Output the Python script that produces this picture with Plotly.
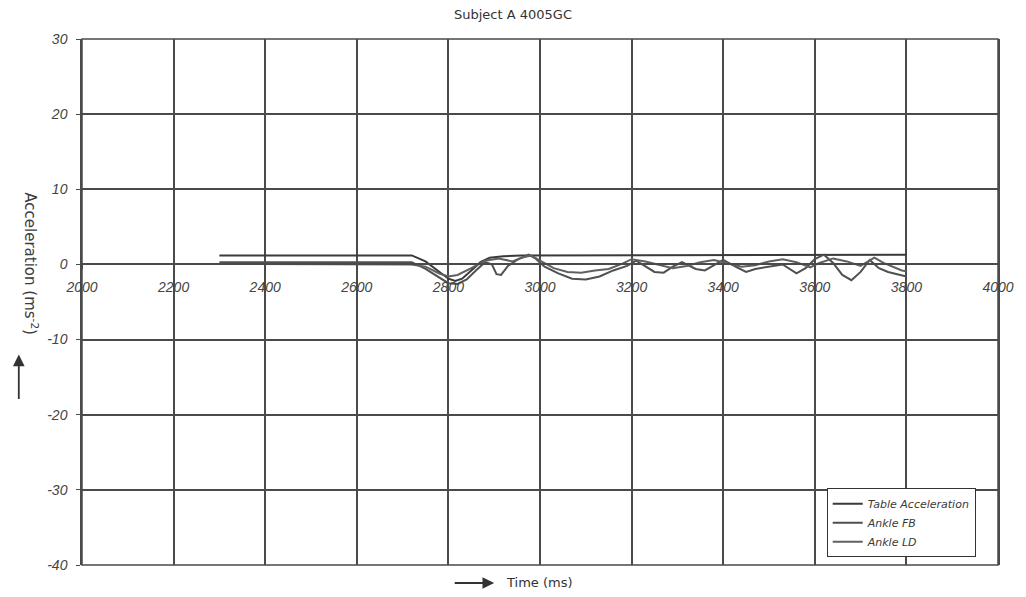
import plotly.graph_objects as go

# Table acceleration (ms^-2) vs time (ms)
table_t = [2300, 2720, 2750, 2780, 2800, 2815, 2830, 2850, 2870, 2890, 2920, 2960, 3000, 3400, 3800]
table_a = [1.2, 1.2, 0.4, -1.0, -1.9, -2.2, -1.9, -0.8, 0.3, 0.9, 1.1, 1.2, 1.2, 1.25, 1.3]

# Ankle fore-aft response
fb_t = [2300, 2500, 2720, 2750, 2780, 2800, 2820, 2840, 2860, 2880, 2895, 2905, 2915, 2930,
        2950, 2975, 2990, 3010, 3040, 3070, 3100, 3130, 3160, 3190, 3210, 3230, 3250, 3270,
        3290, 3310, 3340, 3360, 3380, 3400, 3430, 3450, 3470, 3500, 3530, 3560, 3580, 3600,
        3620, 3640, 3660, 3680, 3700, 3720, 3740, 3760, 3780, 3800]
fb_a = [0.3, 0.3, 0.3, -0.6, -1.8, -2.5, -2.6, -2.0, -0.8, 0.3, 0.0, -1.3, -1.4, -0.2,
        0.6, 1.3, 0.8, -0.3, -1.2, -1.9, -2.0, -1.6, -0.8, -0.2, 0.5, -0.2, -1.0, -1.1,
        -0.3, 0.3, -0.6, -0.8, -0.1, 0.6, -0.4, -1.0, -0.6, -0.3, 0.0, -1.2, -0.5, 0.7,
        1.3, 0.2, -1.4, -2.1, -1.0, 0.6, -0.5, -1.0, -1.3, -1.6]

# Ankle lateral response
ld_t = [2300, 2720, 2750, 2780, 2800, 2820, 2850, 2880, 2910, 2940, 2960, 2980, 3000, 3030,
        3060, 3090, 3120, 3150, 3180, 3200, 3230, 3260, 3290, 3320, 3350, 3380, 3410, 3440,
        3470, 3500, 3530, 3560, 3590, 3610, 3640, 3670, 3700, 3730, 3750, 3770, 3790, 3800]
ld_a = [0.05, 0.0, -0.3, -1.2, -1.6, -1.4, -0.5, 0.5, 0.8, 0.4, 0.9, 1.2, 0.5, -0.5,
        -1.0, -1.1, -0.8, -0.6, 0.1, 0.7, 0.4, 0.0, -0.5, -0.2, 0.3, 0.6, 0.2, -0.3,
        -0.1, 0.4, 0.7, 0.3, -0.4, 0.2, 0.8, 0.4, -0.2, 0.9, 0.2, -0.3, -0.8, -0.9]

x_ticks = [2000, 2200, 2400, 2600, 2800, 3000, 3200, 3400, 3600, 3800, 4000]
y_ticks = [-40, -30, -20, -10, 0, 10, 20, 30]
y_tick_text = ["-40", "-30", "-20", "-10", "0", "10", "20", "30"]

line_col = "#505050"
grid_col = "#4a4a4a"
tick_font = dict(family="Liberation Sans, Arial", size=14, color="#444444", style="italic")

fig = go.Figure()
fig.add_trace(go.Scatter(x=table_t, y=table_a, mode="lines", name="Table Acceleration",
                         line=dict(color="#3a3a3a", width=2)))
fig.add_trace(go.Scatter(x=fb_t, y=fb_a, mode="lines", name="Ankle FB",
                         line=dict(color=line_col, width=2)))
fig.add_trace(go.Scatter(x=ld_t, y=ld_a, mode="lines", name="Ankle LD",
                         line=dict(color="#606060", width=2)))

fig.update_layout(
    width=1026, height=597,
    margin=dict(l=82, r=19, t=39, b=32),
    paper_bgcolor="white", plot_bgcolor="white",
    showlegend=True,
    legend=dict(x=0.813, y=0.146, xanchor="left", yanchor="top",
                bgcolor="white", bordercolor="#333333", borderwidth=1,
                font=dict(family="DejaVu Sans", size=11, color="#3a3a3a", style="italic"),
                itemwidth=30, tracegroupgap=0),
    xaxis=dict(range=[2000, 4000], tickvals=x_ticks, ticktext=[str(v) for v in x_ticks],
               showgrid=True, gridcolor=grid_col, gridwidth=1.5, zeroline=False,
               anchor="free", position=40 / 70, showline=True, linecolor=grid_col, linewidth=1.5,
               ticks="outside", ticklen=4, tickcolor=grid_col, tickfont=tick_font,
               ticklabelstandoff=6),
    yaxis=dict(range=[-40, 30], tickvals=y_ticks, ticktext=y_tick_text, domain=[0, 1],
               showgrid=True, gridcolor=grid_col, gridwidth=1.5, zeroline=False,
               showline=True, linecolor=grid_col, linewidth=1.5, mirror=True,
               ticks="outside", ticklen=4, tickcolor=grid_col, tickfont=tick_font,
               ticklabelstandoff=6),
)

# plot frame
fig.add_shape(type="rect", xref="paper", yref="paper", x0=0, x1=1, y0=0, y1=1,
              line=dict(color=grid_col, width=1.5), layer="below")

fig.add_annotation(text="Subject A 4005GC", xref="paper", yref="paper", x=0.471, y=1,
                   yanchor="middle", yshift=25, showarrow=False,
                   font=dict(family="DejaVu Sans", size=13, color="#333333"))

# y-axis title with upward arrow
fig.add_annotation(text="Acceleration (ms<sup>-2</sup>)", xref="paper", yref="paper",
                   x=-0.069, y=0.572, textangle=90, showarrow=False,
                   font=dict(family="DejaVu Sans", size=15, color="#3c3c3c"))
fig.add_annotation(x=-0.069, y=0.40, ax=0, ay=46, xref="paper", yref="paper",
                   text="", showarrow=True,
                   arrowhead=2, arrowsize=1.3, arrowwidth=1.8, arrowcolor="#333333")

# x-axis title with rightward arrow
fig.add_annotation(text="Time (ms)", xref="paper", yref="paper", x=0.4605, y=0,
                   yanchor="middle", yshift=-17, xanchor="left", showarrow=False,
                   font=dict(family="DejaVu Sans", size=13, color="#333333"))
fig.add_annotation(x=0.45, y=0, ax=-41, ay=0, xref="paper", yref="paper",
                   yshift=-18, text="", showarrow=True,
                   arrowhead=2, arrowsize=1.3, arrowwidth=1.8, arrowcolor="#333333")

fig.write_html("out.html")
